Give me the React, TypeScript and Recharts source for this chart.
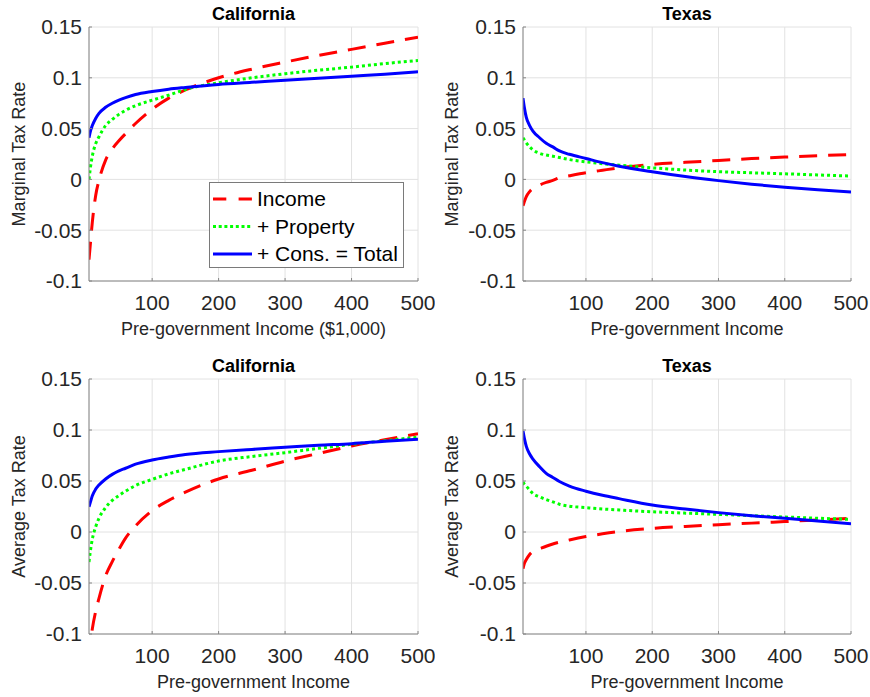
import React from 'react';
import { LineChart, Line, XAxis, YAxis, CartesianGrid, Legend } from 'recharts';

// ---------- data ----------
const incomeK = [5, 7, 10, 15, 20, 30, 40, 50, 60, 75, 100, 125, 150, 200, 250, 300, 350, 400, 450, 500];
const xTicks = [100, 200, 300, 400, 500];
const yTicks = [-0.1, -0.05, 0, 0.05, 0.1, 0.15];
const seriesNames = ['Income', '+ Property', '+ Cons. = Total'];

// Marginal, California
const mtrCaIncome = [-0.079, -0.064, -0.042, -0.016, -0.001, 0.019, 0.03, 0.038, 0.045, 0.055, 0.069, 0.08, 0.088, 0.1, 0.1085, 0.1155, 0.122, 0.128, 0.134, 0.14];
const mtrCaProperty = [0.0, 0.011, 0.023, 0.035, 0.042, 0.053, 0.059, 0.064, 0.068, 0.0725, 0.078, 0.083, 0.0885, 0.095, 0.1, 0.104, 0.1075, 0.1105, 0.114, 0.117];
const mtrCaTotal = [0.041, 0.047, 0.053, 0.06, 0.065, 0.071, 0.075, 0.078, 0.0805, 0.0835, 0.0865, 0.0888, 0.0905, 0.0935, 0.0955, 0.0975, 0.0995, 0.1015, 0.1035, 0.106];

// Marginal, Texas
const mtrTxIncome = [-0.026, -0.022, -0.017, -0.012, -0.0088, -0.0055, -0.003, -0.001, 0.0016, 0.0035, 0.0065, 0.009, 0.0114, 0.0147, 0.0168, 0.0186, 0.0205, 0.022, 0.0233, 0.0245];
const mtrTxProperty = [0.041, 0.039, 0.036, 0.032, 0.029, 0.0257, 0.024, 0.0228, 0.0215, 0.0195, 0.0173, 0.0155, 0.014, 0.0114, 0.0092, 0.0076, 0.0065, 0.0055, 0.0044, 0.0033];
const mtrTxTotal = [0.08, 0.071, 0.061, 0.053, 0.0475, 0.041, 0.0355, 0.032, 0.028, 0.0247, 0.0206, 0.0165, 0.013, 0.0075, 0.0028, -0.0012, -0.0047, -0.0078, -0.0103, -0.0124];

// Average, California
const atrCaIncome = [-0.125, -0.11, -0.095, -0.078, -0.065, -0.043, -0.029, -0.017, -0.006, 0.006, 0.021, 0.031, 0.039, 0.052, 0.0605, 0.0695, 0.077, 0.0843, 0.0905, 0.0964];
const atrCaProperty = [-0.0294, -0.019, -0.007, 0.005, 0.0135, 0.024, 0.031, 0.0357, 0.04, 0.0455, 0.0516, 0.057, 0.0614, 0.0696, 0.074, 0.0778, 0.082, 0.086, 0.0895, 0.093];
const atrCaTotal = [0.0248, 0.029, 0.0355, 0.042, 0.046, 0.052, 0.0565, 0.06, 0.0625, 0.0665, 0.0706, 0.0735, 0.076, 0.0788, 0.081, 0.083, 0.085, 0.0866, 0.089, 0.091];

// Average, Texas
const atrTxIncome = [-0.036, -0.031, -0.027, -0.022, -0.019, -0.0165, -0.014, -0.0118, -0.01, -0.0078, -0.0045, -0.0018, 0.0005, 0.0035, 0.0055, 0.0072, 0.0087, 0.0102, 0.0118, 0.0134];
const atrTxProperty = [0.049, 0.047, 0.045, 0.041, 0.0377, 0.0345, 0.0318, 0.0295, 0.0272, 0.0253, 0.0239, 0.0226, 0.0216, 0.0198, 0.0185, 0.0173, 0.016, 0.0147, 0.0135, 0.0124];
const atrTxTotal = [0.099, 0.092, 0.084, 0.0765, 0.0715, 0.064, 0.0575, 0.0535, 0.0495, 0.045, 0.04, 0.036, 0.0327, 0.0265, 0.0225, 0.019, 0.016, 0.0134, 0.0108, 0.0082];

const buildRows = (income: number[], property: number[], total: number[]) =>
  incomeK.map((x, i) => ({ x, income: income[i], property: property[i], total: total[i] }));

// ---------- style ----------
const FONT = '"Liberation Sans", Arial, Helvetica, sans-serif';
const AXIS = '#868686';
const GRID = '#e2e2e2';
const TEXT = '#262626';
const RED = '#ff0000';
const GREEN = '#00ff00';
const BLUE = '#0000ff';

const LegendBox = () => {
  const rows = [
    { y: 16, color: RED, dash: '13.3 12.3' },
    { y: 43.5, color: GREEN, dash: '3 2.7' },
    { y: 71, color: BLUE, dash: undefined as string | undefined },
  ];
  return (
    <div style={{ width: 195, height: 86, border: '1px solid #7a7a7a', background: '#fff', boxSizing: 'border-box' }}>
      <svg width={193} height={84} style={{ display: 'block' }}>
        {rows.map((r, i) => (
          <g key={i}>
            <line x1={3} x2={42} y1={r.y} y2={r.y} stroke={r.color} strokeWidth={3} strokeDasharray={r.dash} />
            <text x={47} y={r.y} dy="0.35em" fontSize={21} fontFamily={FONT} fill="#000">{seriesNames[i]}</text>
          </g>
        ))}
      </svg>
    </div>
  );
};

type PanelProps = {
  left: number; top: number; width: number; height: number;
  marginTop: number; marginRight: number; yW: number; xH: number;
  title: string; yLabel: string; xLabel: string; yLabelX: number;
  rows: any[]; showLegend?: boolean;
};

const Panel = (p: PanelProps) => {
  const plotH = p.height - p.marginTop - p.xH;
  const xLabelContent = (props: any) => {
    const vb = props.viewBox || {};
    const cx = vb.x + vb.width / 2;
    return (
      <g>
        <text x={cx} y={vb.y - plotH - 7} textAnchor="middle" fontSize={18} fontWeight="bold" fontFamily={FONT} fill="#000">{p.title}</text>
        <text x={cx} y={vb.y + 54} textAnchor="middle" fontSize={18} fontFamily={FONT} fill={TEXT}>{p.xLabel}</text>
      </g>
    );
  };
  const yLabelContent = (props: any) => {
    const vb = props.viewBox || {};
    const cx = p.yLabelX;
    const cy = vb.y + vb.height / 2;
    return (
      <text x={cx} y={cy} dy="0.35em" transform={`rotate(-90 ${cx} ${cy})`} textAnchor="middle" fontSize={18} fontFamily={FONT} fill={TEXT}>{p.yLabel}</text>
    );
  };
  const tickStyle = { fill: TEXT, fontSize: 21, fontFamily: FONT };
  return (
    <div style={{ position: 'absolute', left: p.left, top: p.top, width: p.width, height: p.height }}>
      <LineChart width={p.width} height={p.height} data={p.rows}
        margin={{ top: p.marginTop, right: p.marginRight, left: 0, bottom: 0 }}>
        <CartesianGrid xAxisId="main" yAxisId="main" stroke={GRID} strokeWidth={1} />
        <XAxis xAxisId="main" type="number" dataKey="x" domain={[5, 500]} ticks={xTicks} allowDataOverflow
          interval={0} height={p.xH} tick={tickStyle} tickLine={{ stroke: AXIS }} tickSize={-3} tickMargin={17}
          axisLine={{ stroke: AXIS, strokeWidth: 1 }} label={{ content: xLabelContent }} />
        <XAxis xAxisId="top" orientation="top" type="number" dataKey="x" domain={[5, 500]} ticks={xTicks} allowDataOverflow
          interval={0} height={0} tick={false} tickLine={{ stroke: AXIS }} tickSize={-3}
          axisLine={{ stroke: AXIS, strokeWidth: 1 }} />
        <YAxis yAxisId="main" type="number" domain={[-0.1, 0.15]} ticks={yTicks} allowDataOverflow
          interval={0} width={p.yW} tick={tickStyle} tickFormatter={(v: number) => String(v)}
          tickLine={{ stroke: AXIS }} tickSize={-3} tickMargin={10}
          axisLine={{ stroke: AXIS, strokeWidth: 1 }} label={{ content: yLabelContent }} />
        <YAxis yAxisId="right" orientation="right" type="number" domain={[-0.1, 0.15]} ticks={yTicks} allowDataOverflow
          interval={0} width={0} tick={false} tickLine={{ stroke: AXIS }} tickSize={-3}
          axisLine={{ stroke: AXIS, strokeWidth: 1 }} />
        <Line xAxisId="main" yAxisId="main" type="monotoneX" dataKey="income" name={seriesNames[0]} stroke={RED}
          strokeWidth={3} strokeDasharray="18 11" dot={false} activeDot={false} isAnimationActive={false} />
        <Line xAxisId="main" yAxisId="main" type="monotoneX" dataKey="property" name={seriesNames[1]} stroke={GREEN}
          strokeWidth={3} strokeDasharray="3 3" dot={false} activeDot={false} isAnimationActive={false} />
        <Line xAxisId="main" yAxisId="main" type="monotoneX" dataKey="total" name={seriesNames[2]} stroke={BLUE}
          strokeWidth={3} dot={false} activeDot={false} isAnimationActive={false} />
        {p.showLegend && (
          <Legend content={() => <LegendBox />} layout="vertical" align="center" verticalAlign="middle"
            wrapperStyle={{ left: 209, top: 182, width: 195, height: 86 }} />
        )}
      </LineChart>
    </div>
  );
};

export default function App() {
  return (
    <div style={{ position: 'absolute', left: 0, top: 0, width: 870, height: 697, background: '#fff', fontFamily: FONT }}>
      <Panel left={0} top={0} width={435} height={340} marginTop={27} marginRight={17} yW={89} xH={59}
        title="California" yLabel="Marginal Tax Rate" xLabel="Pre-government Income ($1,000)" yLabelX={19}
        rows={buildRows(mtrCaIncome, mtrCaProperty, mtrCaTotal)} showLegend />
      <Panel left={435} top={0} width={435} height={340} marginTop={27} marginRight={19} yW={88} xH={59}
        title="Texas" yLabel="Marginal Tax Rate" xLabel="Pre-government Income" yLabelX={17}
        rows={buildRows(mtrTxIncome, mtrTxProperty, mtrTxTotal)} />
      <Panel left={0} top={345} width={435} height={352} marginTop={34} marginRight={17} yW={89} xH={63}
        title="California" yLabel="Average Tax Rate" xLabel="Pre-government Income" yLabelX={19}
        rows={buildRows(atrCaIncome, atrCaProperty, atrCaTotal)} />
      <Panel left={435} top={345} width={435} height={352} marginTop={34} marginRight={19} yW={88} xH={63}
        title="Texas" yLabel="Average Tax Rate" xLabel="Pre-government Income" yLabelX={17}
        rows={buildRows(atrTxIncome, atrTxProperty, atrTxTotal)} />
    </div>
  );
}
